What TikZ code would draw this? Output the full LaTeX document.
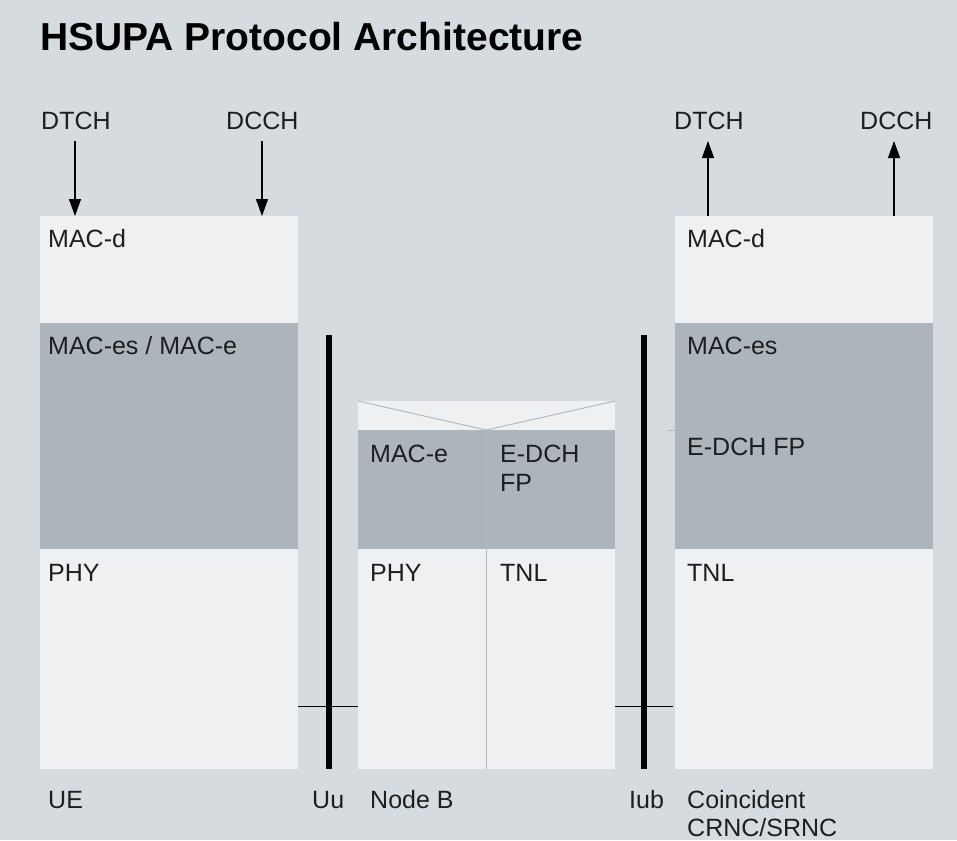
\documentclass[tikz,border=0pt]{standalone}
\usepackage{fontspec}
\setmainfont{Liberation Sans}
\usetikzlibrary{arrows.meta}
\definecolor{bg}{HTML}{D6DBDF}
\definecolor{lite}{HTML}{EEF0F2}
\definecolor{dark}{HTML}{ADB5BC}
\definecolor{txt}{HTML}{1E1E1E}
\definecolor{sepc}{HTML}{B2BAC1}
\begin{document}
\begin{tikzpicture}[x=1pt,y=-1pt,
  lbl/.style={anchor=base west, inner sep=0pt, font=\fontsize{25}{29}\selectfont, text=txt, align=left},
  blk/.style={anchor=north west, inner sep=0pt, outer sep=0pt, draw=none},
  arr/.style={-{Triangle[width=12pt,length=17pt]}, line width=1.2pt, black},
  ifbar/.style={line width=5.5pt, black},
  ifline/.style={line width=1pt, black},
  sepl/.style={line width=1pt, sepc}]
\fill[bg] (0,0) rectangle (957,840);
\useasboundingbox (0,0) rectangle (957,840);

% title
\node[anchor=base west, inner sep=0pt, font=\fontsize{39}{44}\selectfont\bfseries, text=black] (title) at (40,51) {HSUPA Protocol Architecture};

% UE stack
\node[blk, fill=lite, minimum width=258pt, minimum height=107pt] (ueD) at (40,216) {};
\node[blk, fill=dark, minimum width=258pt, minimum height=226pt] (ueE) at (40,323) {};
\node[blk, fill=lite, minimum width=258pt, minimum height=220pt] (ueP) at (40,549) {};

% Node B stack
\node[blk, fill=lite, minimum width=257pt, minimum height=29pt] (nbT) at (358,401) {};
\node[blk, fill=dark, minimum width=257pt, minimum height=119pt] (nbE) at (358,430) {};
\node[blk, fill=lite, minimum width=257pt, minimum height=220pt] (nbP) at (358,549) {};

% RNC stack
\node[blk, fill=lite, minimum width=258pt, minimum height=107pt] (rnD) at (675,216) {};
\node[blk, fill=dark, minimum width=258pt, minimum height=226pt] (rnE) at (675,323) {};
\node[blk, fill=lite, minimum width=258pt, minimum height=220pt] (rnP) at (675,549) {};

% Node B internal lines
\coordinate (nbV) at (486,430);
\coordinate (nbVb) at (486,769);
\draw[sepl] (nbT.north west) -- (nbV) -- (nbT.north east);
\draw[sepl] (nbV) -- (nbVb);
\coordinate (tickL) at (668,430);
\draw[sepl] (tickL) -- (rnE.west |- tickL);

% interfaces
\coordinate (uuT) at (329,335);
\coordinate (uuB) at (329,769);
\coordinate (iubT) at (644,335);
\coordinate (iubB) at (644,769);
\draw[ifbar] (uuT) -- (uuB);
\draw[ifbar] (iubT) -- (iubB);
\coordinate (hy) at (0,706);
\draw[ifline] (ueP.east |- hy) -- (nbP.west |- hy);
\draw[ifline] (nbP.east |- hy) -- (673,706);

% top labels and arrows
\node[lbl] (dtchL) at (41,129) {DTCH};
\node[lbl] (dcchL) at (226,129) {DCCH};
\node[lbl] (dtchR) at (674,129) {DTCH};
\node[lbl] (dcchR) at (860,129) {DCCH};
\coordinate (aL1) at (75,141);
\coordinate (aL2) at (262,141);
\coordinate (aR1) at (708,141);
\coordinate (aR2) at (894,141);
\draw[arr] (aL1) -- (aL1 |- ueD.north);
\draw[arr] (aL2) -- (aL2 |- ueD.north);
\draw[arr] (aR1 |- rnD.north) -- (aR1);
\draw[arr] (aR2 |- rnD.north) -- (aR2);

% layer labels
\node[lbl] (tUeD) at (48,247) {MAC-d};
\node[lbl] (tUeE) at (48,354) {MAC-es / MAC-e};
\node[lbl] (tUeP) at (48,581) {PHY};
\node[lbl] (tNbE) at (370,462) {MAC-e};
\node[lbl] (tNbF) at (500,491) {E-DCH\\FP};
\node[lbl] (tNbP) at (370,581) {PHY};
\node[lbl] (tNbT) at (500,581) {TNL};
\node[lbl] (tRnD) at (687,247) {MAC-d};
\node[lbl] (tRnE) at (687,354) {MAC-es};
\node[lbl] (tRnF) at (687,455) {E-DCH FP};
\node[lbl] (tRnT) at (687,581) {TNL};

% bottom labels
\node[lbl] (bUe) at (48,808) {UE};
\node[lbl] (bUu) at (312,808) {Uu};
\node[lbl] (bNb) at (370,808) {Node B};
\node[lbl] (bIub) at (629,808) {Iub};
\node[lbl, font=\fontsize{25}{28}\selectfont] (bRnc) at (687,836) {Coincident\\CRNC/SRNC};
\end{tikzpicture}
\end{document}
